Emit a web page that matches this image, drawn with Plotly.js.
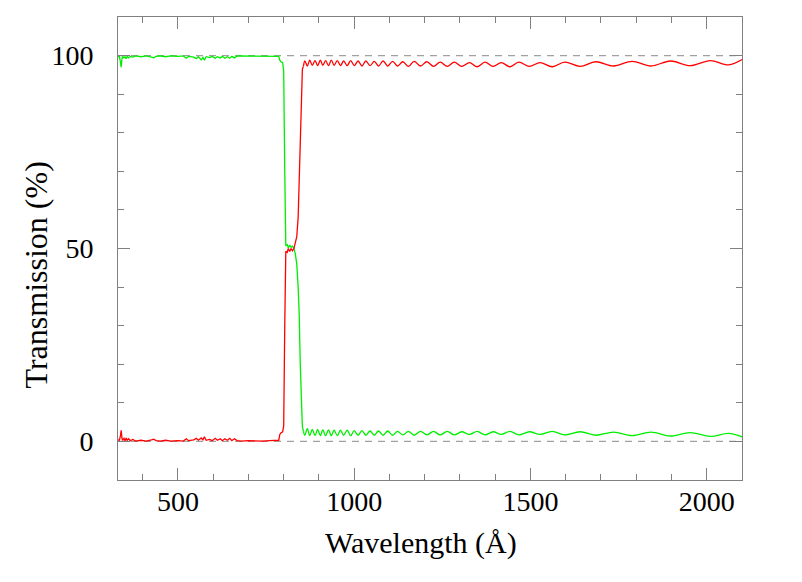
<!DOCTYPE html>
<html>
<head>
<meta charset="utf-8">
<script src="https://cdn.plot.ly/plotly-3.0.1.min.js"></script>
<style>
  html, body { margin: 0; padding: 0; background: #ffffff; }
  #plot { width: 802px; height: 582px; }
</style>
</head>
<body>
<div id="plot"></div>
<script>
// Wavelength grid (Angstrom)
const wavelength = [
  330, 334, 337, 339, 341, 343, 347, 350, 353, 356, 360, 365, 372, 380, 395, 410, 425, 431, 438, 450,
  465, 480, 500, 515, 524, 530, 545, 552, 558, 566, 571, 575, 580, 590, 597, 606, 612, 620, 626, 633,
  640, 647, 653, 660, 668, 680, 700, 720, 740, 760, 780, 786, 789, 792, 797, 800, 803, 806, 810, 813,
  817, 821, 825, 829, 833, 837, 841, 844, 847, 850, 853, 856,
  860, 867, 874, 881, 889, 896, 904, 911, 919, 927, 935, 943, 952, 961, 970, 980, 990, 1000, 1011, 1022,
  1033, 1045, 1057, 1069, 1082, 1095, 1109, 1123, 1138, 1154, 1170, 1188, 1206, 1225, 1244, 1264, 1284, 1305, 1327, 1349,
  1371, 1394, 1417, 1442, 1467, 1497, 1527, 1562, 1597, 1641, 1685, 1736, 1788, 1842, 1897, 1953, 2010, 2062, 2100
];

// Transmission (%) of the red curve
const transRed = [
  0.4, 0.3, 1.5, 2.9, 1.0, 0.3, 0.8, 0.2, 0.9, 0.3, 0.7, 0.2, 0.5, 0.1, 0.3, 0.1, 0.4, 0.6, 0.2, 0.1,
  0.3, 0.1, 0.2, 0.1, 0.7, 0.2, 0.4, 0.8, 0.3, 0.9, 0.4, 1.2, 0.3, 0.5, 0.2, 0.8, 0.3, 0.7, 0.2, 0.7,
  0.3, 0.8, 0.2, 0.7, 0.2, 0.1, 0.2, 0.1, 0.1, 0.2, 0.2, 0.3, 1.8, 2.2, 2.5, 4.0, 30, 49.3, 49.0, 50.0,
  49.2, 50.0, 49.4, 50.0, 51.5, 53, 58, 68, 82, 92, 96.5, 97.2,
  98.6, 97.3, 98.8, 97.5, 98.7, 97.4, 98.8, 97.5, 98.7, 97.4, 98.8, 97.5, 98.7, 97.4, 98.6, 97.4, 98.7, 97.4, 98.6, 97.3,
  98.6, 97.4, 98.5, 97.3, 98.6, 97.3, 98.5, 97.3, 98.4, 97.2, 98.5, 97.3, 98.4, 97.2, 98.3, 97.2, 98.3, 97.2, 98.2, 97.1,
  98.3, 97.2, 98.2, 97.1, 98.3, 97.2, 98.2, 97.1, 98.3, 97.2, 98.4, 97.3, 98.5, 97.3, 98.6, 97.4, 98.7, 97.6, 99.0
];

// Transmission (%) of the green curve
const transGreen = [
  99.7, 99.8, 98.2, 97.0, 99.0, 99.8, 99.4, 99.7, 99.2, 99.8, 99.4, 99.8, 99.6, 99.9, 99.7, 99.9, 99.6, 99.4, 99.8, 99.9,
  99.7, 99.9, 99.8, 99.9, 99.3, 99.8, 99.6, 99.2, 99.7, 98.9, 99.5, 98.8, 99.7, 99.5, 99.8, 99.3, 99.7, 99.4, 99.8, 99.3,
  99.7, 99.3, 99.8, 99.4, 99.9, 99.9, 99.8, 99.9, 99.9, 99.9, 99.9, 99.8, 98.8, 98.4, 98.2, 96, 70, 50.8, 51.0, 50.2,
  50.9, 50.3, 50.6, 50.0, 48.6, 46, 40, 33, 20, 8, 3.8, 2.6,
  1.6, 3.3, 1.5, 3.1, 1.5, 3.1, 1.5, 3.0, 1.5, 3.0, 1.5, 2.9, 1.5, 2.9, 1.6, 2.9, 1.5, 2.8, 1.6, 2.8,
  1.6, 2.7, 1.6, 2.7, 1.6, 2.7, 1.6, 2.6, 1.7, 2.6, 1.6, 2.6, 1.7, 2.6, 1.7, 2.6, 1.7, 2.5, 1.8, 2.6,
  1.7, 2.5, 1.8, 2.6, 1.7, 2.5, 1.8, 2.6, 1.7, 2.5, 1.6, 2.4, 1.5, 2.4, 1.4, 2.3, 1.3, 2.1, 1.2
];

// Wavelength where the sharp edge ends and the smooth ripple begins
const rippleStart = 856;

// Dashed reference levels (%)
const refLevels = [0, 100];

// Axis ticks
const xTickVals = [500, 1000, 1500, 2000];
const yTickVals = [0, 50, 100];

const FONT = 'Liberation Serif, Times New Roman, serif';
const AXIS_COLOR = '#808080';
const RED = '#ff0000';
const GREEN = '#00ee00';

// edge part drawn straight, ripple part smoothed
const cut = wavelength.indexOf(rippleStart);

function curve(y, color, part) {
  const lo = part === 'edge' ? 0 : cut;
  const hi = part === 'edge' ? cut + 1 : wavelength.length;
  return {
    x: wavelength.slice(lo, hi),
    y: y.slice(lo, hi),
    mode: 'lines',
    line: { color: color, width: 1.3, shape: part === 'edge' ? 'linear' : 'spline', smoothing: 1 },
    hoverinfo: 'skip'
  };
}

const traces = [
  curve(transGreen, GREEN, 'edge'),
  curve(transGreen, GREEN, 'ripple'),
  curve(transRed, RED, 'edge'),
  curve(transRed, RED, 'ripple')
];

const shapes = refLevels.map(v => ({
  type: 'line',
  xref: 'paper',
  x0: 0,
  x1: 1,
  yref: 'y',
  y0: v,
  y1: v,
  layer: 'below',
  line: { color: '#a0a0a0', width: 1.2, dash: '7px,6px' }
}));

const axisCommon = {
  showline: true,
  linecolor: AXIS_COLOR,
  linewidth: 1,
  mirror: 'ticks',
  ticks: 'inside',
  tickcolor: AXIS_COLOR,
  tickwidth: 1,
  ticklen: 12,
  showgrid: false,
  zeroline: false,
  tickfont: { family: FONT, size: 28, color: '#000000' }
};

const layout = {
  width: 802,
  height: 582,
  margin: { l: 118, r: 60, t: 17, b: 102 },
  paper_bgcolor: '#ffffff',
  plot_bgcolor: '#ffffff',
  showlegend: false,
  xaxis: Object.assign({}, axisCommon, {
    range: [330, 2100],
    tickmode: 'array',
    tickvals: xTickVals,
    ticklabelstandoff: -4,
    minor: { dtick: 100, ticks: 'inside', ticklen: 6, tickcolor: AXIS_COLOR, tickwidth: 1, showgrid: false }
  }),
  yaxis: Object.assign({}, axisCommon, {
    range: [-10, 110],
    tickmode: 'array',
    tickvals: yTickVals,
    ticklabelstandoff: 18,
    minor: { dtick: 10, ticks: 'inside', ticklen: 6, tickcolor: AXIS_COLOR, tickwidth: 1, showgrid: false }
  }),
  shapes: shapes,
  annotations: [
    {
      text: 'Wavelength (Å)',
      xref: 'paper', yref: 'paper',
      x: 0.486, y: -0.094,
      xanchor: 'center', yanchor: 'top',
      showarrow: false,
      font: { family: FONT, size: 30, color: '#000000' }
    },
    {
      text: 'Transmission (%)',
      xref: 'paper', yref: 'paper',
      x: -0.1, y: 0.443,
      xanchor: 'right', yanchor: 'middle',
      textangle: -90,
      showarrow: false,
      font: { family: FONT, size: 32, color: '#000000' }
    }
  ]
};

Plotly.newPlot('plot', traces, layout, { displayModeBar: false, staticPlot: true });
</script>
</body>
</html>
